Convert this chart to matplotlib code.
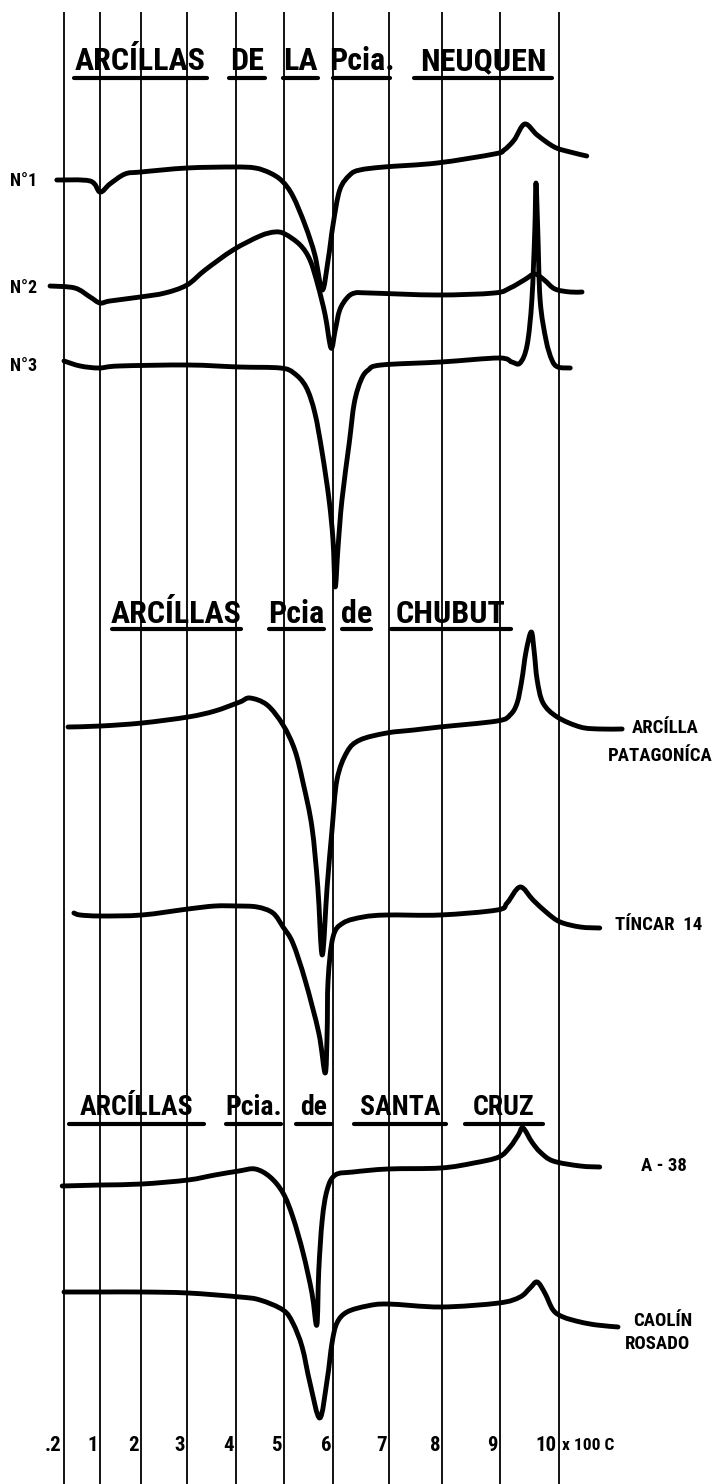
#!/usr/bin/env python3
"""
DTA curves of Patagonian clays (Neuquen, Chubut, Santa Cruz)
Redrawn from a scanned recorder sheet, saved as out.png
"""

import numpy as np
import matplotlib
matplotlib.use("Agg")
import matplotlib.pyplot as plt
from matplotlib import font_manager
from matplotlib.lines import Line2D
from matplotlib.path import Path
from matplotlib.patches import PathPatch

W, H = 717, 1484

# temperature lines of the sheet (x 100 C)
TICK_TEMPS = [20, 100, 200, 300, 400, 500, 600, 700, 800, 900, 1000]
TICK_LABELS = [".2", "1", "2", "3", "4", "5", "6", "7", "8", "9", "10"]
# where each temperature line sits across the sheet (the paper scale is not linear)
TICK_POS = [64, 100, 141, 187, 236, 284, 333, 389, 442, 500, 559]

# --- curves: temperature (C) and pen position (down the sheet) ---
N1_T = [4, 78, 100, 124, 161, 200, 300, 396, 440, 471, 496, 518, 543, 563, 578,
        590, 600, 612, 630, 648, 691, 791, 890, 907, 924, 942, 963, 992, 1019, 1047]
N1_Y = [180, 181, 192, 184, 174, 172, 168, 167, 168, 173, 181, 196, 225, 255, 290,
        260, 225, 190, 175, 170, 167, 163, 154, 150, 140, 124, 135, 147, 152, 156]

N2_T = [-11, 44, 78, 100, 124, 198, 252, 300, 337, 394, 450, 481, 502, 533, 553, 569,
        584, 596, 604, 612, 625, 639, 666, 791, 890, 917, 941, 959, 975, 993, 1019, 1039]
N2_Y = [286, 288, 297, 303, 301, 297, 293, 285, 270, 250, 236, 232, 234, 245, 260, 285,
        315, 348, 330, 310, 298, 293, 293, 295, 293, 288, 280, 274, 280, 289, 292, 292]

N3_T = [20, 56, 98, 146, 302, 406, 492, 520, 545, 563, 578, 592, 600, 604, 609, 616,
        629, 638, 650, 663, 686, 798, 898, 920, 934, 946, 954, 959, 961, 964, 968,
        978, 988, 998, 1019]
N3_Y = [361, 366, 368, 366, 365, 367, 368, 373, 387, 413, 453, 500, 540, 587, 547, 500,
        443, 403, 380, 370, 365, 362, 358, 362, 363, 345, 300, 230, 183, 230, 300,
        340, 360, 367, 368]

AP_T = [29, 102, 202, 302, 357, 408, 429, 465, 498, 522, 539, 557, 569, 578, 588, 598,
        607, 625, 648, 696, 747, 796, 895, 917, 929, 937, 944, 953, 958, 963, 973, 997,
        1036, 1069, 1107]
AP_Y = [727, 726, 723, 717, 711, 702, 698, 705, 725, 750, 783, 827, 887, 955, 887, 830,
        780, 752, 740, 733, 730, 727, 721, 715, 703, 680, 652, 632, 652, 680, 703, 717,
        727, 729, 729]

TC_T = [42, 56, 102, 202, 302, 357, 402, 444, 477, 498, 518, 543, 571, 584, 588,
        590, 600, 618, 654, 696, 796, 895, 912, 934, 956, 980, 1002, 1036, 1069]
TC_Y = [913, 915, 916, 915, 909, 906, 906, 907, 913, 927, 943, 980, 1033, 1073, 1033,
        980, 937, 923, 917, 915, 915, 910, 903, 887, 900, 913, 922, 927, 928]

A38_T = [16, 102, 202, 302, 357, 406, 440, 471, 498, 518, 539, 557, 567, 571, 578, 588,
         604, 636, 698, 798, 855, 898, 917, 931, 939, 954, 968, 990, 1036, 1069]
A38_Y = [1186, 1185, 1184, 1180, 1175, 1171, 1169, 1177, 1193, 1217, 1253, 1293, 1325,
         1270, 1220, 1190, 1175, 1172, 1169, 1168, 1163, 1157, 1147, 1135, 1128, 1142,
         1152, 1161, 1166, 1167]

CR_T = [20, 102, 202, 302, 408, 450, 498, 518, 537, 553, 573, 588, 598, 607, 625, 661,
        698, 798, 898, 934, 951, 963, 976, 990, 1007, 1036, 1064, 1100]
CR_Y = [1292, 1292, 1292, 1293, 1297, 1300, 1310, 1323, 1347, 1383, 1418, 1380, 1343,
        1323, 1312, 1306, 1304, 1307, 1303, 1297, 1288, 1282, 1293, 1310, 1317, 1322,
        1325, 1327]

CURVES = [(N1_T, N1_Y), (N2_T, N2_Y), (N3_T, N3_Y), (AP_T, AP_Y),
          (TC_T, TC_Y), (A38_T, A38_Y), (CR_T, CR_Y)]

# titles: (word, left, right) of each underlined word
TITLE_NEUQUEN = [("ARCÍLLAS", 74, 207), ("DE", 229, 265), ("LA", 283, 318),
                 ("Pcia.", 333, 390), ("NEUQUEN", 414, 552)]
TITLE_CHUBUT = [("ARCÍLLAS", 112, 241), ("Pcia", 269, 324), ("de", 342, 371),
                ("CHUBUT", 391, 511)]
TITLE_SANTACRUZ = [("ARCÍLLAS", 69, 204), ("Pcia.", 226, 281), ("de", 296, 331),
                   ("SANTA", 354, 446), ("CRUZ", 465, 543)]


def pick_font(candidates):
    names = {f.name for f in font_manager.fontManager.ttflist}
    for c in candidates:
        if c in names:
            return c
    return "DejaVu Sans"


FONT = pick_font(["Liberation Sans Narrow", "Roboto Condensed", "Liberation Sans"])
FAM = [FONT, "DejaVu Sans"]


def temp_to_pos(t):
    t = np.asarray(t, dtype=float)
    lo = (TICK_POS[1] - TICK_POS[0]) / (TICK_TEMPS[1] - TICK_TEMPS[0])
    hi = (TICK_POS[-1] - TICK_POS[-2]) / (TICK_TEMPS[-1] - TICK_TEMPS[-2])
    p = np.interp(t, TICK_TEMPS, TICK_POS)
    p = np.where(t < TICK_TEMPS[0], TICK_POS[0] + (t - TICK_TEMPS[0]) * lo, p)
    p = np.where(t > TICK_TEMPS[-1], TICK_POS[-1] + (t - TICK_TEMPS[-1]) * hi, p)
    return p


def pos_to_temp(p):
    p = np.asarray(p, dtype=float)
    lo = (TICK_TEMPS[1] - TICK_TEMPS[0]) / (TICK_POS[1] - TICK_POS[0])
    hi = (TICK_TEMPS[-1] - TICK_TEMPS[-2]) / (TICK_POS[-1] - TICK_POS[-2])
    t = np.interp(p, TICK_POS, TICK_TEMPS)
    t = np.where(p < TICK_POS[0], TICK_TEMPS[0] + (p - TICK_POS[0]) * lo, t)
    t = np.where(p > TICK_POS[-1], TICK_TEMPS[-1] + (p - TICK_POS[-1]) * hi, t)
    return t


def pen_path(temps, ys):
    """Smooth pen trace (Catmull-Rom through the read points) in data coords."""
    pts = np.column_stack([temp_to_pos(temps), np.asarray(ys, dtype=float)])
    n = len(pts)
    verts = [pts[0]]
    codes = [Path.MOVETO]
    for i in range(n - 1):
        p0 = pts[i - 1] if i > 0 else pts[i]
        p1, p2 = pts[i], pts[i + 1]
        p3 = pts[i + 2] if i + 2 < n else pts[i + 1]
        verts += [p1 + (p2 - p0) / 6, p2 - (p3 - p1) / 6, p2]
        codes += [Path.CURVE4] * 3
    verts = np.array(verts)
    verts[:, 0] = pos_to_temp(verts[:, 0])
    return Path(verts, codes)


def fx(x):
    return x / W


def fy(y):
    return 1 - y / H


def draw_title(fig, words, baseline, line_y, size):
    for word, x0, x1 in words:
        fig.text(fx((x0 + x1) / 2), fy(baseline), word, ha="center", va="baseline",
                 fontsize=size, fontweight="bold", family=FAM)
        fig.add_artist(Line2D([fx(x0), fx(x1)], [fy(line_y), fy(line_y)],
                              transform=fig.transFigure, color="black", lw=3.0,
                              solid_capstyle="round"))


def main():
    fig = plt.figure(figsize=(W / 100, H / 100), dpi=100)
    fig.patch.set_facecolor("white")
    ax = fig.add_axes([0, 0, 1, 1])
    ax.set_xscale("function", functions=(temp_to_pos, pos_to_temp))
    ax.set_xlim(float(pos_to_temp(0)), float(pos_to_temp(W)))
    ax.set_ylim(H, 0)
    ax.axis("off")

    # temperature lines
    ax.vlines(TICK_TEMPS, 12, H, colors="black", lw=1.3)

    for t, y in CURVES:
        ax.add_patch(PathPatch(pen_path(t, y), fill=False, edgecolor="black",
                               lw=3.5, joinstyle="round", capstyle="round"))

    # scale numbers under the lines
    for t, lab in zip(TICK_TEMPS, TICK_LABELS):
        x = float(temp_to_pos(t)) - 2
        fig.text(fx(x), fy(1451), lab, ha="right", va="baseline",
                 fontsize=15, fontweight="bold", family=FAM)
    fig.text(fx(562), fy(1450), "x 100 C", ha="left", va="baseline",
             fontsize=12.5, fontweight="bold", family=FAM)

    # titles
    draw_title(fig, TITLE_NEUQUEN, 70, 78, 23)
    draw_title(fig, TITLE_CHUBUT, 623, 629, 23)
    draw_title(fig, TITLE_SANTACRUZ, 1115, 1124, 20)

    # sample labels
    for lab, y in [("N°1", 186), ("N°2", 293), ("N°3", 371)]:
        fig.text(fx(10), fy(y), lab, ha="left", va="baseline",
                 fontsize=13, fontweight="bold", family=FAM)

    side = [("ARCÍLLA", 665, 733, "center"), ("PATAGONÍCA", 660, 761, "center"),
            ("TÍNCAR  14", 615, 930, "left"), ("A - 38", 641, 1171, "left"),
            ("CAOLÍN", 663, 1326, "center"), ("ROSADO", 658, 1349, "center")]
    for lab, x, y, ha in side:
        fig.text(fx(x), fy(y), lab, ha=ha, va="baseline",
                 fontsize=13.5, fontweight="bold", family=FAM)

    fig.savefig("out.png", dpi=100, facecolor="white")
    plt.close(fig)


if __name__ == "__main__":
    main()
